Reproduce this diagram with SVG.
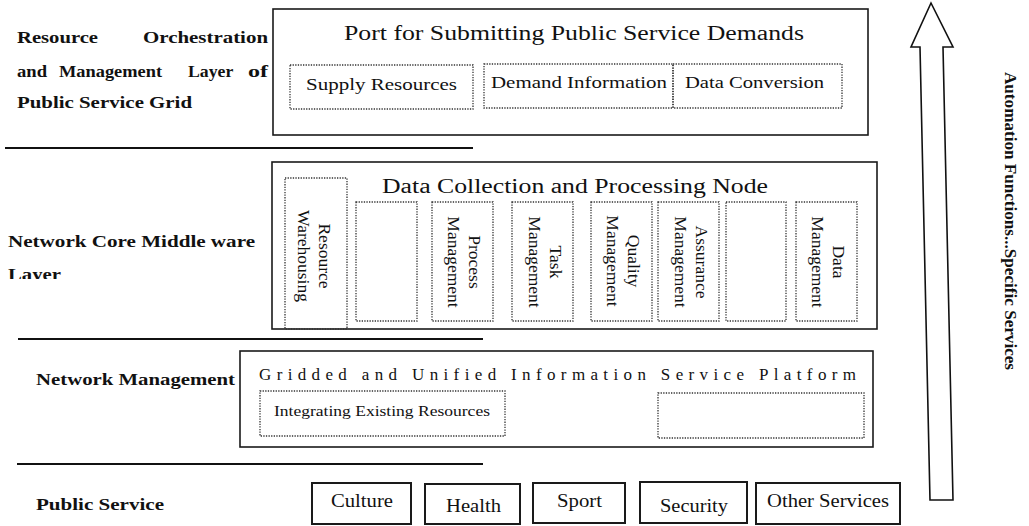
<svg xmlns="http://www.w3.org/2000/svg" width="1029" height="526" viewBox="0 0 1029 526">
<style>
.bg{fill:#fff}
.box{fill:#fff;stroke:#1a1a1a;stroke-width:1.6}
.sbox{fill:#fff;stroke:#1a1a1a;stroke-width:2}
.dot{fill:none;stroke:#333;stroke-width:1.3;stroke-dasharray:1.3 1.3}
.rule{stroke:#111;stroke-width:2}
.t{font-family:"Liberation Serif","Times New Roman",serif;fill:#111}
.b{font-family:"Liberation Serif","Times New Roman",serif;font-weight:bold;fill:#111;font-size:16px}
.v{font-family:"Liberation Serif","Times New Roman",serif;fill:#111;font-size:17.5px;text-anchor:middle}
.arrow{fill:#fff;stroke:#111;stroke-width:1.6;stroke-linejoin:miter}
</style>
<defs>
<clipPath id="layerClip"><rect x="0" y="255" width="120" height="24"/></clipPath>
</defs>
<rect class="bg" x="0" y="0" width="1029" height="526"/>

<g id="labels">
<text class="b" y="43"><tspan x="17" textLength="81" lengthAdjust="spacingAndGlyphs">Resource</tspan> <tspan x="143" textLength="125" lengthAdjust="spacingAndGlyphs">Orchestration</tspan></text>
<text class="b" y="77"><tspan x="17" textLength="30" lengthAdjust="spacingAndGlyphs">and</tspan> <tspan x="59" textLength="103" lengthAdjust="spacingAndGlyphs">Management</tspan> <tspan x="188" textLength="45" lengthAdjust="spacingAndGlyphs">Layer</tspan> <tspan x="248" textLength="20" lengthAdjust="spacingAndGlyphs">of</tspan></text>
<text class="b" x="17" y="108" textLength="175" lengthAdjust="spacingAndGlyphs">Public Service Grid</text>
<text class="b" x="8" y="247" textLength="247" lengthAdjust="spacingAndGlyphs">Network Core Middle ware</text>
<text class="b" x="8" y="280" textLength="53" lengthAdjust="spacingAndGlyphs" clip-path="url(#layerClip)">Layer</text>
<text class="b" x="36" y="385" textLength="199" lengthAdjust="spacingAndGlyphs">Network Management</text>
<text class="b" x="36" y="510" textLength="128" lengthAdjust="spacingAndGlyphs">Public Service</text>
</g>

<g id="connectors">
<line class="rule" x1="5" y1="148" x2="473" y2="148"/>
<line class="rule" x1="18" y1="339" x2="483" y2="339"/>
<line class="rule" x1="17" y1="464" x2="483" y2="464"/>
<polygon class="arrow" points="931,3 953,47 943,47 953,500 930,500 920,47 911,47"/>
<text class="b" font-size="17" transform="translate(1005,72) rotate(90)" x="0" y="0" textLength="298" lengthAdjust="spacingAndGlyphs">Automation Functions...Specific Services</text>
</g>

<g id="port">
<rect class="box" x="273" y="9" width="595" height="126"/>
<text class="t" x="344" y="40" font-size="20" textLength="460" lengthAdjust="spacingAndGlyphs">Port for Submitting Public Service Demands</text>
</g>
<g id="supply">
<rect class="dot" x="290" y="65" width="183" height="44"/>
<text class="t" x="306" y="90" font-size="17" textLength="151" lengthAdjust="spacingAndGlyphs">Supply Resources</text>
</g>
<g id="demand">
<rect class="dot" x="484" y="64" width="189" height="44"/>
<text class="t" x="491" y="88" font-size="17" textLength="176" lengthAdjust="spacingAndGlyphs">Demand Information</text>
</g>
<g id="conversion">
<rect class="dot" x="673" y="64" width="169" height="44"/>
<text class="t" x="685" y="88" font-size="17" textLength="139" lengthAdjust="spacingAndGlyphs">Data Conversion</text>
</g>

<g id="node">
<rect class="box" x="272" y="162" width="605" height="167"/>
<text class="t" x="382" y="193" font-size="20" textLength="386" lengthAdjust="spacingAndGlyphs">Data Collection and Processing Node</text>
</g>
<g id="warehousing">
<rect class="dot" x="285" y="178" width="62" height="151"/>
<g transform="translate(319,256) rotate(90)"><text class="v" x="0" y="0">Resource</text><text class="v" x="0" y="21">Warehousing</text></g>
</g>
<g id="empty1"><rect class="dot" x="356" y="202" width="61" height="119"/></g>
<g id="process">
<rect class="dot" x="432" y="202" width="61" height="119"/>
<g transform="translate(469,262) rotate(90)"><text class="v" x="0" y="0">Process</text><text class="v" x="0" y="21">Management</text></g>
</g>
<g id="task">
<rect class="dot" x="512" y="202" width="61" height="119"/>
<g transform="translate(550,262) rotate(90)"><text class="v" x="0" y="0">Task</text><text class="v" x="0" y="21">Management</text></g>
</g>
<g id="quality">
<rect class="dot" x="591" y="202" width="61" height="119"/>
<g transform="translate(628,261) rotate(90)"><text class="v" x="0" y="0">Quality</text><text class="v" x="0" y="21">Management</text></g>
</g>
<g id="assurance">
<rect class="dot" x="658" y="202" width="61" height="119"/>
<g transform="translate(696,262) rotate(90)"><text class="v" x="0" y="0">Assurance</text><text class="v" x="0" y="21">Management</text></g>
</g>
<g id="empty2"><rect class="dot" x="726" y="202" width="60" height="119"/></g>
<g id="datamgmt">
<rect class="dot" x="796" y="202" width="61" height="119"/>
<g transform="translate(833,262) rotate(90)"><text class="v" x="0" y="0">Data</text><text class="v" x="0" y="21">Management</text></g>
</g>

<g id="platform">
<rect class="box" x="240" y="351" width="633" height="96"/>
<text class="t" x="259" y="380" font-size="17" textLength="597" lengthAdjust="spacing">Gridded and Unified Information Service Platform</text>
</g>
<g id="integrating">
<rect class="dot" x="260" y="391" width="245" height="45"/>
<text class="t" x="274" y="416" font-size="15" textLength="216" lengthAdjust="spacingAndGlyphs">Integrating Existing Resources</text>
</g>
<g id="empty3"><rect class="dot" x="658" y="393" width="206" height="45"/></g>

<g id="culture">
<rect class="sbox" x="312" y="483" width="99" height="41"/>
<text class="t" x="331" y="507" font-size="18.5" textLength="62" lengthAdjust="spacingAndGlyphs">Culture</text>
</g>
<g id="health">
<rect class="sbox" x="425" y="484" width="95" height="40"/>
<text class="t" x="446" y="512" font-size="18.5" textLength="55" lengthAdjust="spacingAndGlyphs">Health</text>
</g>
<g id="sport">
<rect class="sbox" x="533" y="483" width="92" height="40"/>
<text class="t" x="557" y="507" font-size="18.5" textLength="45" lengthAdjust="spacingAndGlyphs">Sport</text>
</g>
<g id="security">
<rect class="sbox" x="640" y="482" width="107" height="41"/>
<text class="t" x="660" y="512" font-size="18.5" textLength="68" lengthAdjust="spacingAndGlyphs">Security</text>
</g>
<g id="other">
<rect class="sbox" x="756" y="483" width="144" height="41"/>
<text class="t" x="767" y="507" font-size="18.5" textLength="122" lengthAdjust="spacingAndGlyphs">Other Services</text>
</g>
</svg>
